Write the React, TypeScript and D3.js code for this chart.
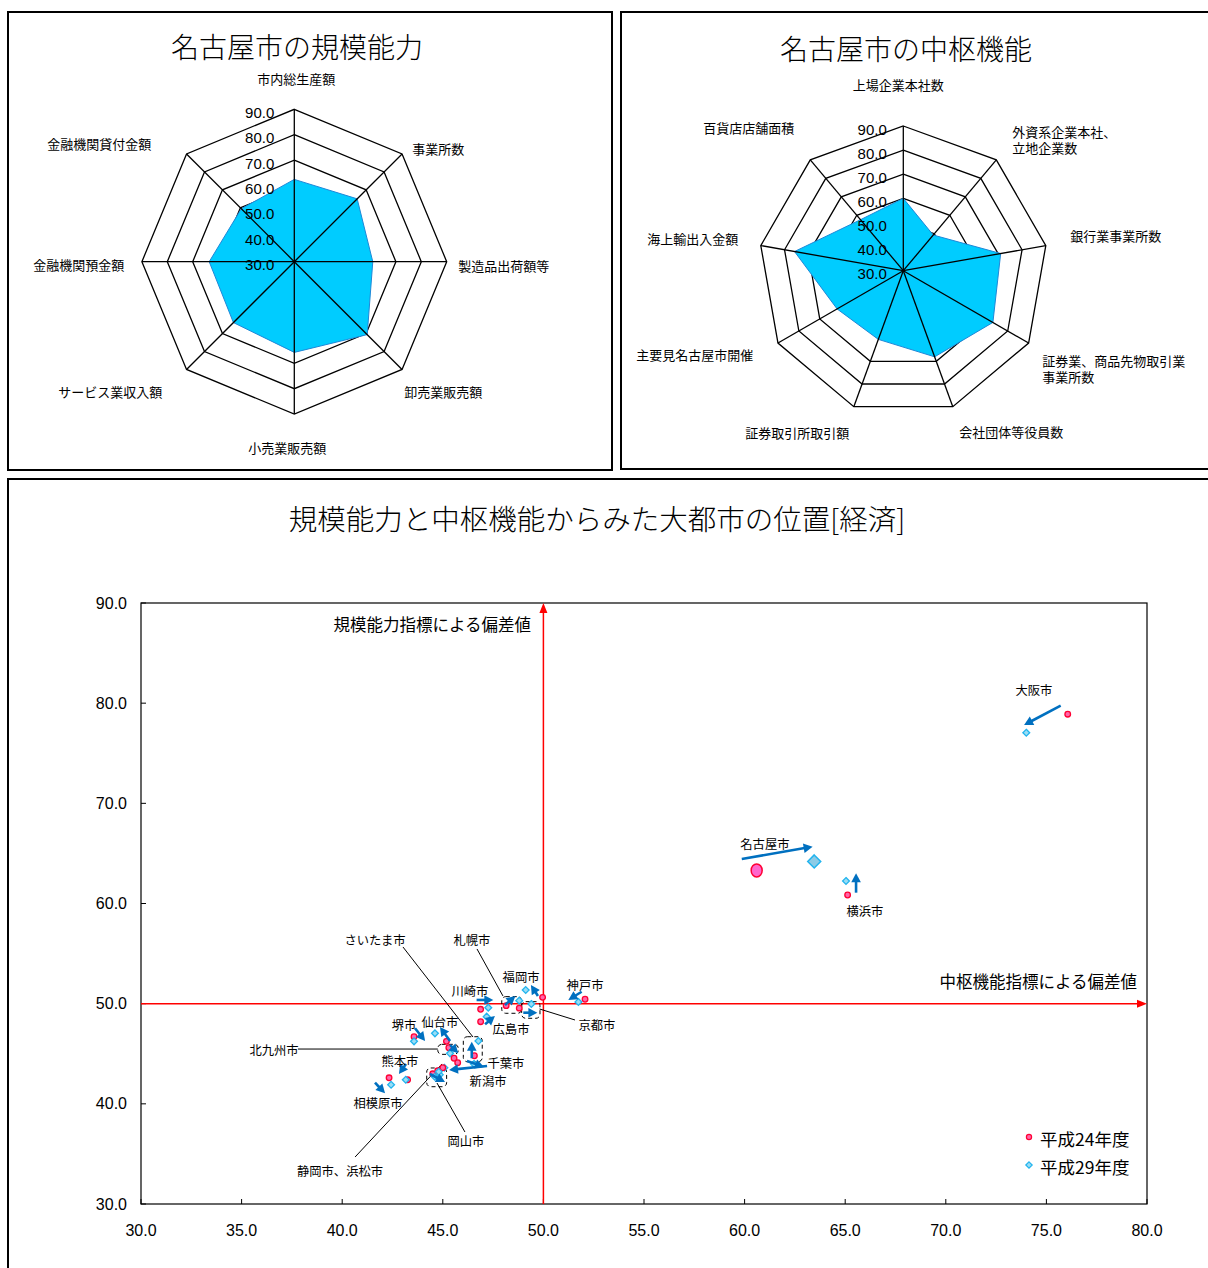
import React from "react";
import * as d3 from "d3";

// ---------- Radar data ----------
const scaleAxes = ["市内総生産額", "事業所数", "製造品出荷額等", "卸売業販売額", "小売業販売額", "サービス業収入額", "金融機関預金額", "金融機関貸付金額"];
const scaleValues = [62.4, 65.0, 60.9, 70.6, 65.7, 63.9, 63.5, 59.5];

const centralAxes = ["上場企業本社数", "外資系企業本社、\n立地企業数", "銀行業事業所数", "証券業、商品先物取引業\n事業所数", "会社団体等役員数", "証券取引所取引額", "主要見名古屋市開催", "海上輸出入金額", "百貨店店舗面積"];
const centralValues = [60.0, 49.3, 71.0, 72.9, 68.0, 60.3, 61.7, 75.8, 57.6];

const radarTicks = [30, 40, 50, 60, 70, 80, 90];

// ---------- Scatter data ----------
const cities = ["大阪市", "名古屋市", "横浜市", "神戸市", "福岡市", "京都市", "札幌市", "川崎市", "広島市", "さいたま市", "仙台市", "堺市", "北九州市", "千葉市", "新潟市", "静岡市", "浜松市", "岡山市", "熊本市", "相模原市"];
const h24X = [76.06, 60.6, 65.12, 52.07, 49.96, 48.8, 48.15, 46.88, 46.88, 46.57, 45.18, 43.57, 45.3, 45.56, 45.74, 44.75, 44.5, 45.0, 43.25, 42.33];
const h24Y = [78.9, 63.3, 60.85, 50.44, 50.63, 49.55, 49.8, 49.44, 48.2, 44.8, 46.24, 46.7, 45.6, 44.55, 44.1, 43.3, 43.0, 43.6, 42.4, 42.6];
const h29X = [74.0, 63.46, 65.04, 51.74, 49.12, 49.4, 48.8, 47.26, 47.18, 46.77, 44.61, 43.57, 45.36, 46.55, 45.08, 44.85, 44.6, 44.8, 43.16, 42.43];
const h29Y = [77.05, 64.2, 62.25, 50.17, 51.36, 49.97, 50.3, 49.6, 48.7, 46.27, 47.04, 46.24, 45.04, 43.98, 43.6, 42.9, 42.7, 43.2, 42.4, 41.9];

const xTicks = [30, 35, 40, 45, 50, 55, 60, 65, 70, 75, 80];
const yTicks = [30, 40, 50, 60, 70, 80, 90];
const seriesNames = ["平成24年度", "平成29年度"];

// ---------- Scatter annotations (data coordinates) ----------
const arrows: [number, number, number, number][] = [
  [75.71, 79.75, 73.89, 77.82],
  [59.86, 64.44, 63.38, 65.67],
  [65.54, 61.08, 65.54, 63.01],
  [49.73, 50.77, 49.38, 51.86],
  [51.9, 51.19, 51.24, 50.37],
  [49.0, 49.1, 49.7, 49.1],
  [48.09, 49.87, 48.61, 50.77],
  [46.68, 50.37, 47.51, 50.37],
  [47.1, 47.94, 47.59, 48.77],
  [46.44, 44.55, 46.44, 46.2],
  [45.36, 46.27, 44.86, 47.67],
  [45.36, 45.87, 45.77, 45.04],
  [43.62, 47.54, 44.12, 46.27],
  [43.17, 43.98, 42.82, 42.98],
  [41.63, 42.11, 42.13, 41.05],
  [46.2, 44.28, 47.05, 43.68],
  [47.2, 43.78, 45.31, 43.38],
  [44.36, 42.98, 45.11, 42.18],
];
const boxes: [number, number, number, number][] = [
  [47.93, 48.92, 50.7, 49.04],
  [48.92, 49.83, 50.2, 48.54],
  [46.02, 46.96, 46.7, 44.21],
  [44.75, 45.77, 45.94, 44.94],
  [44.2, 45.19, 43.58, 41.71],
];
const leaders: [number, number, number, number][] = [
  [43.02, 55.66, 46.5, 46.67],
  [46.7, 55.46, 47.99, 50.77],
  [49.81, 49.47, 51.57, 48.37],
  [37.8, 45.47, 44.75, 45.47],
  [40.64, 34.69, 44.96, 43.98],
  [46.1, 37.19, 44.71, 42.08],
];
const labels: [string, number, number][] = [
  ["大阪市", 74.38, 81.31],
  ["名古屋市", 61.01, 65.94],
  ["横浜市", 65.98, 59.25],
  ["神戸市", 52.07, 51.86],
  ["福岡市", 48.89, 52.66],
  ["京都市", 52.66, 47.87],
  ["札幌市", 46.45, 56.36],
  ["川崎市", 46.35, 51.26],
  ["広島市", 48.39, 47.47],
  ["さいたま市", 41.63, 56.36],
  ["仙台市", 44.86, 48.17],
  ["堺市", 43.07, 47.87],
  ["北九州市", 36.61, 45.37],
  ["熊本市", 42.87, 44.28],
  ["相模原市", 41.78, 40.08],
  ["千葉市", 48.14, 44.08],
  ["新潟市", 47.25, 42.28],
  ["岡山市", 46.15, 36.29],
  ["静岡市、浜松市", 39.89, 33.29],
];

const JP = "'Noto Sans CJK JP', 'Noto Sans', sans-serif";
const NUM = "'Liberation Sans', Arial, sans-serif";

type LabelPos = [number, number, "start" | "middle" | "end"];
const scaleLabelPos: LabelPos[] = [
  [2, -184, "middle"], [118, -114, "start"], [164, 3, "start"], [110, 129, "start"],
  [-7, 185, "middle"], [-132, 129, "end"], [-170, 2, "end"], [-143, -119, "end"],
];
const centralLabelPos: LabelPos[] = [
  [-5, -187, "middle"], [109, -140, "start"], [167, -36, "start"], [139, 89, "start"],
  [108, 160, "middle"], [-106, 161, "middle"], [-150, 83, "end"], [-165, -33, "end"], [-109, -144, "end"],
];

function Radar(props: {
  cx: number; cy: number; R: number; axes: string[]; values: number[];
  labelPos: LabelPos[]; tickDx: number;
}) {
  const { cx, cy, R, axes, values, labelPos, tickDx } = props;
  const n = axes.length;
  const r = d3.scaleLinear().domain([30, 90]).range([0, R]);
  const ang = (i: number) => (i * 2 * Math.PI) / n;
  const ringGen = d3.lineRadial<number>().angle((_, i) => ang(i)).radius((d) => r(d)).curve(d3.curveLinearClosed);
  return (
    <g>
      <g transform={`translate(${cx},${cy})`}>
        {radarTicks.filter((t) => t > 30).map((t) => (
          <path key={t} d={ringGen(axes.map(() => t)) || ""} fill="none" stroke="#000" strokeWidth={1.3} />
        ))}
        <path d={ringGen(values) || ""} fill="#00CCFF" stroke="#1E88D8" strokeWidth={1} />
        {axes.map((_, i) => (
          <line key={i} x1={0} y1={0} x2={r(90) * Math.sin(ang(i))} y2={-r(90) * Math.cos(ang(i))} stroke="#000" strokeWidth={1.3} />
        ))}
        {radarTicks.map((t) => (
          <text key={t} x={-tickDx} y={-r(t) + 8.5} textAnchor="end" fontFamily={NUM} fontSize={15} fill="#000">
            {t.toFixed(1)}
          </text>
        ))}
      </g>
      {axes.map((a, i) => {
        const [dx, dy, anchor] = labelPos[i];
        const lines = a.split("\n");
        return (
          <text key={a} x={cx + dx} y={cy + dy} textAnchor={anchor} fontFamily={JP} fontSize={13} fill="#000" dominantBaseline="central">
            {lines.map((l, j) => (
              <tspan key={j} x={cx + dx} dy={j === 0 ? 0 : 16}>{l}</tspan>
            ))}
          </text>
        );
      })}
    </g>
  );
}

function BlueArrow({ x1, y1, x2, y2 }: { x1: number; y1: number; x2: number; y2: number }) {
  const dx = x2 - x1, dy = y2 - y1;
  const len = Math.hypot(dx, dy) || 1;
  const ux = dx / len, uy = dy / len;
  const head = 9, half = 4.8;
  const bx = x2 - ux * head, by = y2 - uy * head;
  const pts = [
    [x2, y2],
    [bx - uy * half, by + ux * half],
    [bx + uy * half, by - ux * half],
  ].map((p) => p.join(",")).join(" ");
  return (
    <g>
      <line x1={x1} y1={y1} x2={bx + ux * 1} y2={by + uy * 1} stroke="#0070C0" strokeWidth={2.6} />
      <polygon points={pts} fill="#0070C0" />
    </g>
  );
}

function diamond(x: number, y: number, h: number) {
  return `M${x},${y - h}L${x + h},${y}L${x},${y + h}L${x - h},${y}Z`;
}

function Scatter() {
  const x = d3.scaleLinear().domain([30, 80]).range([141, 1147]);
  const y = d3.scaleLinear().domain([30, 90]).range([1204, 603]);
  const [x0, x1] = x.range();
  const [y0, y1] = y.range();
  const ax = x(50), ay = y(50);
  return (
    <g>
      <text x={597} y={517} textAnchor="middle" dominantBaseline="central" fontFamily={JP} fontSize={28.5} fontWeight={300} fill="#000">
        規模能力と中枢機能からみた大都市の位置[経済]
      </text>
      <rect x={x0} y={y1} width={x1 - x0} height={y0 - y1} fill="#fff" stroke="#000" strokeWidth={1.2} />
      {xTicks.map((t) => (
        <g key={t}>
          <line x1={x(t)} x2={x(t)} y1={y0} y2={y0 - 5} stroke="#000" strokeWidth={1} />
          <text x={x(t)} y={1230} textAnchor="middle" dominantBaseline="central" fontFamily={NUM} fontSize={16} fill="#000">{t.toFixed(1)}</text>
        </g>
      ))}
      {yTicks.map((t) => (
        <g key={t}>
          <line x1={x0} x2={x0 + 5} y1={y(t)} y2={y(t)} stroke="#000" strokeWidth={1} />
          <text x={127} y={y(t)} textAnchor="end" dominantBaseline="central" fontFamily={NUM} fontSize={16} fill="#000">{t.toFixed(1)}</text>
        </g>
      ))}
      {/* red reference axes */}
      <line x1={ax} x2={ax} y1={y0} y2={y1 + 8} stroke="#FF0000" strokeWidth={1.5} />
      <polygon points={`${ax},${y1} ${ax - 4},${y1 + 10} ${ax + 4},${y1 + 10}`} fill="#FF0000" />
      <line x1={x0} x2={x1 - 8} y1={ay} y2={ay} stroke="#FF0000" strokeWidth={1.5} />
      <polygon points={`${x1},${ay} ${x1 - 10},${ay - 4} ${x1 - 10},${ay + 4}`} fill="#FF0000" />
      <text x={531} y={624} textAnchor="end" dominantBaseline="central" fontFamily={JP} fontSize={16.5} fill="#000">規模能力指標による偏差値</text>
      <text x={1137} y={981} textAnchor="end" dominantBaseline="central" fontFamily={JP} fontSize={16.5} fill="#000">中枢機能指標による偏差値</text>

      {/* leaders and boxes */}
      {leaders.map((l, i) => (
        <line key={i} x1={x(l[0])} y1={y(l[1])} x2={x(l[2])} y2={y(l[3])} stroke="#000" strokeWidth={1} />
      ))}
      {boxes.map((b, i) => (
        <rect key={i} x={x(b[0])} y={y(b[2])} width={x(b[1]) - x(b[0])} height={y(b[3]) - y(b[2])} rx={4} fill="none" stroke="#000" strokeWidth={1} strokeDasharray="4,3" />
      ))}

      {/* points */}
      {cities.map((c, i) => {
        const big = c === "名古屋市";
        return (
          <g key={c}>
            {big ? (
              <ellipse cx={x(h24X[i])} cy={y(h24Y[i])} rx={5.5} ry={6.5} fill="#FF66CC" stroke="#FF0033" strokeWidth={1.5} />
            ) : (
              <circle cx={x(h24X[i])} cy={y(h24Y[i])} r={2.8} fill="#FF66AA" stroke="#FF0033" strokeWidth={1.3} />
            )}
            <path d={diamond(x(h29X[i]), y(h29Y[i]), big ? 6.5 : 3.4)} fill={big ? "#8CCBE6" : "#99DDF5"} stroke="#22B4EE" strokeWidth={big ? 1.5 : 1.3} />
          </g>
        );
      })}

      {arrows.map((a, i) => (
        <BlueArrow key={i} x1={x(a[0])} y1={y(a[1])} x2={x(a[2])} y2={y(a[3])} />
      ))}

      {labels.map(([t, lx, ly]) => (
        <text key={t} x={x(lx)} y={y(ly)} textAnchor="middle" dominantBaseline="central" fontFamily={JP} fontSize={12.3} fill="#000">{t}</text>
      ))}

      {/* legend */}
      <circle cx={1029} cy={1137} r={2.6} fill="#FF66AA" stroke="#FF0033" strokeWidth={1.2} />
      <text x={1040} y={1138} dominantBaseline="central" fontFamily={JP} fontSize={17.5} fill="#000">{seriesNames[0]}</text>
      <path d={diamond(1029, 1165, 3.2)} fill="#99DDF5" stroke="#22B4EE" strokeWidth={1.2} />
      <text x={1040} y={1166} dominantBaseline="central" fontFamily={JP} fontSize={17.5} fill="#000">{seriesNames[1]}</text>
    </g>
  );
}

export default function App() {
  return (
    <svg width={1208} height={1268} style={{ position: "absolute", left: 0, top: 0, background: "#fff" }}>
      <rect x={0} y={0} width={1208} height={1268} fill="#fff" />
      {/* panels */}
      <rect x={8} y={12} width={604} height={458} fill="#fff" stroke="#000" strokeWidth={2} />
      <rect x={621} y={12} width={600} height={457} fill="#fff" stroke="#000" strokeWidth={2} />
      <rect x={8} y={479} width={1213} height={800} fill="#fff" stroke="#000" strokeWidth={2} />

      <text x={297} y={46} textAnchor="middle" dominantBaseline="central" fontFamily={JP} fontSize={28} fontWeight={300} fill="#000">名古屋市の規模能力</text>
      <text x={906} y={48} textAnchor="middle" dominantBaseline="central" fontFamily={JP} fontSize={28} fontWeight={300} fill="#000">名古屋市の中枢機能</text>

      <Radar cx={294.3} cy={261.7} R={152.4} axes={scaleAxes} values={scaleValues} labelPos={scaleLabelPos} tickDx={20} />
      <Radar cx={903.3} cy={270.7} R={144.7} axes={centralAxes} values={centralValues} labelPos={centralLabelPos} tickDx={16.5} />

      <Scatter />
    </svg>
  );
}
